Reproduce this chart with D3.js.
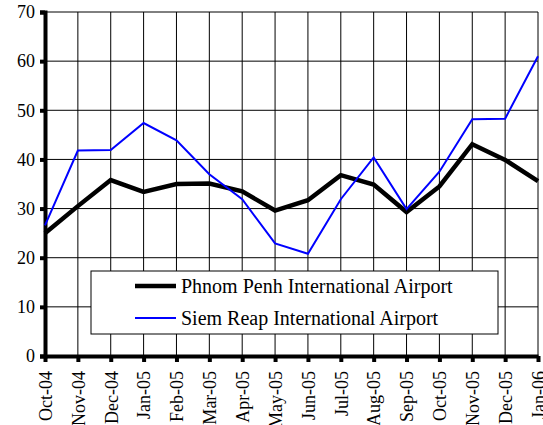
<!DOCTYPE html>
<html>
<head>
<meta charset="utf-8">
<script src="https://cdn.jsdelivr.net/npm/d3@7"></script>
<style>
  body { margin: 0; background: #fff; }
  text { font-family: "Liberation Serif", "Times New Roman", serif; fill: #000; }
</style>
</head>
<body>
<div id="chart"></div>
<script>
/* Monthly passengers, Phnom Penh vs Siem Reap */

const months = ["Oct-04", "Nov-04", "Dec-04", "Jan-05", "Feb-05", "Mar-05", "Apr-05", "May-05",
                "Jun-05", "Jul-05", "Aug-05", "Sep-05", "Oct-05", "Nov-05", "Dec-05", "Jan-06"];
const phnomPenh = [25.0, 30.5, 35.8, 33.4, 35.0, 35.1, 33.5, 29.6, 31.7, 36.8, 34.9, 29.3, 34.5, 43.1, 39.9, 35.6];
const siemReap = [26.6, 41.8, 41.9, 47.4, 43.9, 37.0, 31.9, 22.9, 20.8, 31.9, 40.4, 29.9, 37.5, 48.2, 48.3, 61.0];
const yTicks = [0, 10, 20, 30, 40, 50, 60, 70];
const seriesNames = ["Phnom Penh International Airport", "Siem Reap International Airport"];

const width = 543, height = 425;
const margin = { top: 12, right: 5, bottom: 69, left: 45 };

const svg = d3.select("#chart")
    .append("svg")
    .attr("width", width)
    .attr("height", height);

const x = d3.scalePoint()
    .domain(months)
    .range([margin.left, width - margin.right]);

const y = d3.scaleLinear()
    .domain([0, 70])
    .range([height - margin.bottom, margin.top]);

// grid
svg.append("g")
    .selectAll("line")
    .data(yTicks)
    .join("line")
    .attr("x1", margin.left).attr("x2", width - margin.right)
    .attr("y1", d => y(d)).attr("y2", d => y(d))
    .attr("stroke", "#000").attr("stroke-width", 1);

svg.append("g")
    .selectAll("line")
    .data(months)
    .join("line")
    .attr("x1", d => x(d)).attr("x2", d => x(d))
    .attr("y1", y(0)).attr("y2", y(70))
    .attr("stroke", "#000").attr("stroke-width", 1);

// axes
const yAxis = svg.append("g")
    .attr("transform", `translate(${margin.left},0)`)
    .call(d3.axisLeft(y).tickValues(yTicks).tickSize(5).tickPadding(5));
yAxis.select(".domain").attr("stroke-width", 4);
yAxis.selectAll(".tick line").attr("stroke-width", 4);
yAxis.selectAll(".tick text").style("font-size", "18px").style("font-family", "Liberation Serif");

const xAxis = svg.append("g")
    .attr("transform", `translate(0,${y(0)})`)
    .call(d3.axisBottom(x).tickSize(6).tickSizeOuter(0));
xAxis.select(".domain").attr("stroke-width", 4);
xAxis.selectAll(".tick line").attr("stroke-width", 4);
xAxis.selectAll(".tick text")
    .style("font-size", "18px")
    .style("font-family", "Liberation Serif")
    .attr("text-anchor", "end")
    .attr("transform", "rotate(-90)")
    .attr("x", -15)
    .attr("y", 0)
    .attr("dy", "0.35em");

// lines
const line = vals => d3.line()
    .x((d, i) => x(months[i]))
    .y(d => y(d))(vals);

svg.append("path")
    .attr("d", line(phnomPenh))
    .attr("fill", "none")
    .attr("stroke", "#000")
    .attr("stroke-width", 4.5)
    .attr("stroke-linejoin", "miter");

svg.append("path")
    .attr("d", line(siemReap))
    .attr("fill", "none")
    .attr("stroke", "#0000ff")
    .attr("stroke-width", 2);

// legend
const legend = svg.append("g").attr("transform", "translate(91,271)");
legend.append("rect")
    .attr("width", 407).attr("height", 63)
    .attr("fill", "#fff").attr("stroke", "#000").attr("stroke-width", 1);

const legendStyles = [{ color: "#000", w: 4.5 }, { color: "#0000ff", w: 2 }];
const item = legend.selectAll(".item")
    .data(seriesNames)
    .join("g")
    .attr("class", "item")
    .attr("transform", (d, i) => `translate(0,${15 + i * 32})`);

item.append("line")
    .attr("x1", 44).attr("x2", 85)
    .attr("stroke", (d, i) => legendStyles[i].color)
    .attr("stroke-width", (d, i) => legendStyles[i].w);

item.append("text")
    .attr("x", 90)
    .attr("dy", "0.35em")
    .style("font-size", "20px")
    .text(d => d);
</script>
</body>
</html>
